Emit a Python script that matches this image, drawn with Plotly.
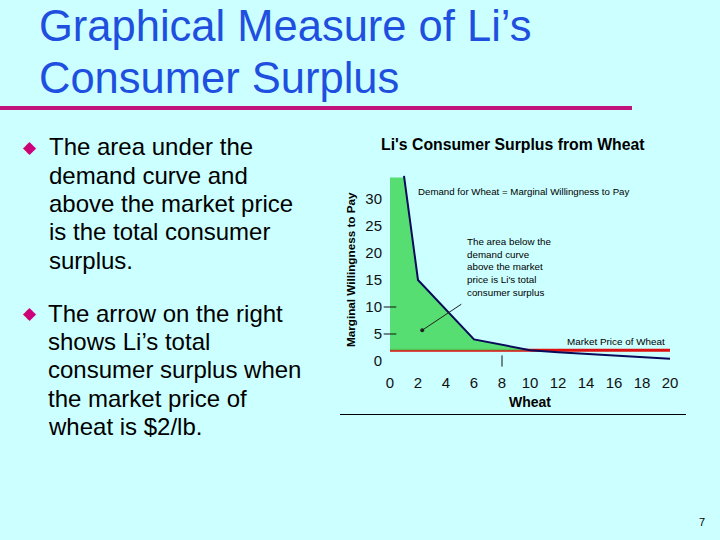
import plotly.graph_objects as go

# ---- data ----
demand_x = [1, 2, 6, 8, 10, 12, 14, 16, 18, 20]
demand_y = [34.3, 15, 4, 3, 2, 1.6, 1.3, 1.0, 0.7, 0.4]
surplus_x = [0, 0, 1, 2, 6, 8, 10, 0]
surplus_y = [2, 34, 34, 15, 4, 3, 2, 2]
price_x = [0, 20]
price_y = [2, 2]
x_ticks = [0, 2, 4, 6, 8, 10, 12, 14, 16, 18, 20]
y_ticks = [0, 5, 10, 15, 20, 25, 30]
y_tickmarks = [5, 10]
x_mark = [8]
x_mark_y = [0]

title_lines = ["Graphical Measure of Li’s", "Consumer Surplus"]
bullet1 = ["The area under the", "demand curve and", "above the market price",
           "is the total consumer", "surplus."]
bullet2 = ["The arrow on the right", "shows Li’s total", "consumer surplus when",
           "the market price of", "wheat is $2/lb."]

W, H = 720, 540
FONT = "Liberation Sans, Arial, sans-serif"

def px(x):
    return x / W

def py(y):
    return (H - y) / H

fig = go.Figure()

fig.add_trace(go.Scatter(x=price_x, y=price_y, mode="lines",
                         line=dict(color="#DD1111", width=3),
                         hoverinfo="skip", showlegend=False))
fig.add_trace(go.Scatter(x=surplus_x, y=surplus_y, mode="lines", fill="toself",
                         fillcolor="rgba(70,218,95,0.88)", line=dict(width=0),
                         hoverinfo="skip", showlegend=False))
fig.add_trace(go.Scatter(x=demand_x, y=demand_y, mode="lines",
                         line=dict(color="#0A0A5A", width=2),
                         hoverinfo="skip", showlegend=False))
fig.add_trace(go.Scatter(x=[0] * len(y_tickmarks), y=y_tickmarks, mode="markers",
                         marker=dict(symbol="line-ew", size=9,
                                     line=dict(color="#111", width=1)),
                         hoverinfo="skip", showlegend=False))
fig.add_trace(go.Scatter(x=x_mark, y=x_mark_y, mode="markers",
                         marker=dict(symbol="line-ns", size=8,
                                     line=dict(color="#111", width=1)),
                         hoverinfo="skip", showlegend=False))

ann = []
# slide title
for t, yy in zip(title_lines, [25.5, 78]):
    ann.append(dict(x=px(37), y=py(yy), xref="paper", yref="paper", text=t,
                    showarrow=False, xanchor="left", yanchor="middle",
                    font=dict(family=FONT, size=43.5, color="#1F4FDF")))
# bullets
for ys, lines, bx, tx in [([146.7, 175, 203.3, 231.7, 260], bullet1, 30, 47),
                          ([313.3, 341.7, 370, 398.3, 426.7], bullet2, 30, 46)]:
    ann.append(dict(x=px(bx), y=py(ys[0]), xref="paper", yref="paper", text="◆",
                    showarrow=False, xanchor="center", yanchor="middle",
                    font=dict(family="DejaVu Sans", size=17, color="#CC0077")))
    for t, yy in zip(lines, ys):
        ann.append(dict(x=px(tx), y=py(yy), xref="paper", yref="paper", text=t,
                        showarrow=False, xanchor="left", yanchor="middle",
                        font=dict(family=FONT, size=24, color="#000000")))
# page number
ann.append(dict(x=px(702), y=py(522), xref="paper", yref="paper", text="7",
                showarrow=False, xanchor="center", yanchor="middle",
                font=dict(family=FONT, size=11, color="#000")))
# chart title
ann.append(dict(x=px(513), y=py(145), xref="paper", yref="paper",
                text="<b>Li's Consumer Surplus from Wheat</b>", showarrow=False,
                xanchor="center", yanchor="middle",
                font=dict(family=FONT, size=15.8, color="#000")))
# axis titles
ann.append(dict(x=px(350), y=py(270), xref="paper", yref="paper",
                text="<b>Marginal Willingness to Pay</b>", showarrow=False,
                textangle=-90, xanchor="center", yanchor="middle",
                font=dict(family=FONT, size=11.7, color="#000")))
ann.append(dict(x=px(530), y=py(402), xref="paper", yref="paper",
                text="<b>Wheat</b>", showarrow=False,
                xanchor="center", yanchor="middle",
                font=dict(family=FONT, size=14, color="#000")))
# in-chart texts
ann.append(dict(x=px(416), y=py(192), xref="paper", yref="paper",
                text="Demand for Wheat = Marginal Willingness to Pay", showarrow=False,
                xanchor="left", yanchor="middle",
                font=dict(family=FONT, size=9.7, color="#000")))
ann.append(dict(x=px(465), y=py(267), xref="paper", yref="paper",
                text="The area below the<br>demand curve<br>above the market<br>price is Li's total<br>consumer surplus",
                showarrow=False, xanchor="left", yanchor="middle", align="left",
                font=dict(family=FONT, size=9.8, color="#000")))
ann.append(dict(x=px(667), y=py(341), xref="paper", yref="paper",
                text="Market Price of Wheat", showarrow=False,
                xanchor="right", yanchor="middle",
                font=dict(family=FONT, size=9.9, color="#000")))
# arrow
ann.append(dict(x=2.3, y=5.7, xref="x", yref="y", ax=5.2, ay=10.7,
                axref="x", ayref="y", text="", showarrow=True,
                arrowhead=6, arrowsize=1, arrowwidth=1, arrowcolor="#222"))

shapes = [
    dict(type="line", xref="paper", yref="paper", x0=0, x1=px(632),
         y0=py(108), y1=py(108), line=dict(color="#C0147A", width=4)),
    dict(type="line", xref="paper", yref="paper", x0=px(340), x1=px(686),
         y0=py(414.5), y1=py(414.5), line=dict(color="#000", width=1)),
]

fig.update_layout(
    width=W, height=H, margin=dict(l=0, r=0, t=0, b=0),
    paper_bgcolor="#CCFFFF", plot_bgcolor="rgba(0,0,0,0)",
    showlegend=False, annotations=ann, shapes=shapes,
    font=dict(family=FONT),
    xaxis=dict(range=[-0.5, 20.5], domain=[px(383), px(677)], tickvals=x_ticks,
               showgrid=False, zeroline=False, showline=False, ticks="",
               tickfont=dict(family=FONT, size=15, color="#111")),
    yaxis=dict(range=[-2, 36], domain=[py(371.8), py(166.6)], tickvals=y_ticks,
               showgrid=False, zeroline=False, showline=False, ticks="",
               tickfont=dict(family=FONT, size=15, color="#111")),
)

fig.write_html("out.html", config={"displayModeBar": False},
               post_script="document.body.style.margin='0';document.body.style.background='#CCFFFF';")
